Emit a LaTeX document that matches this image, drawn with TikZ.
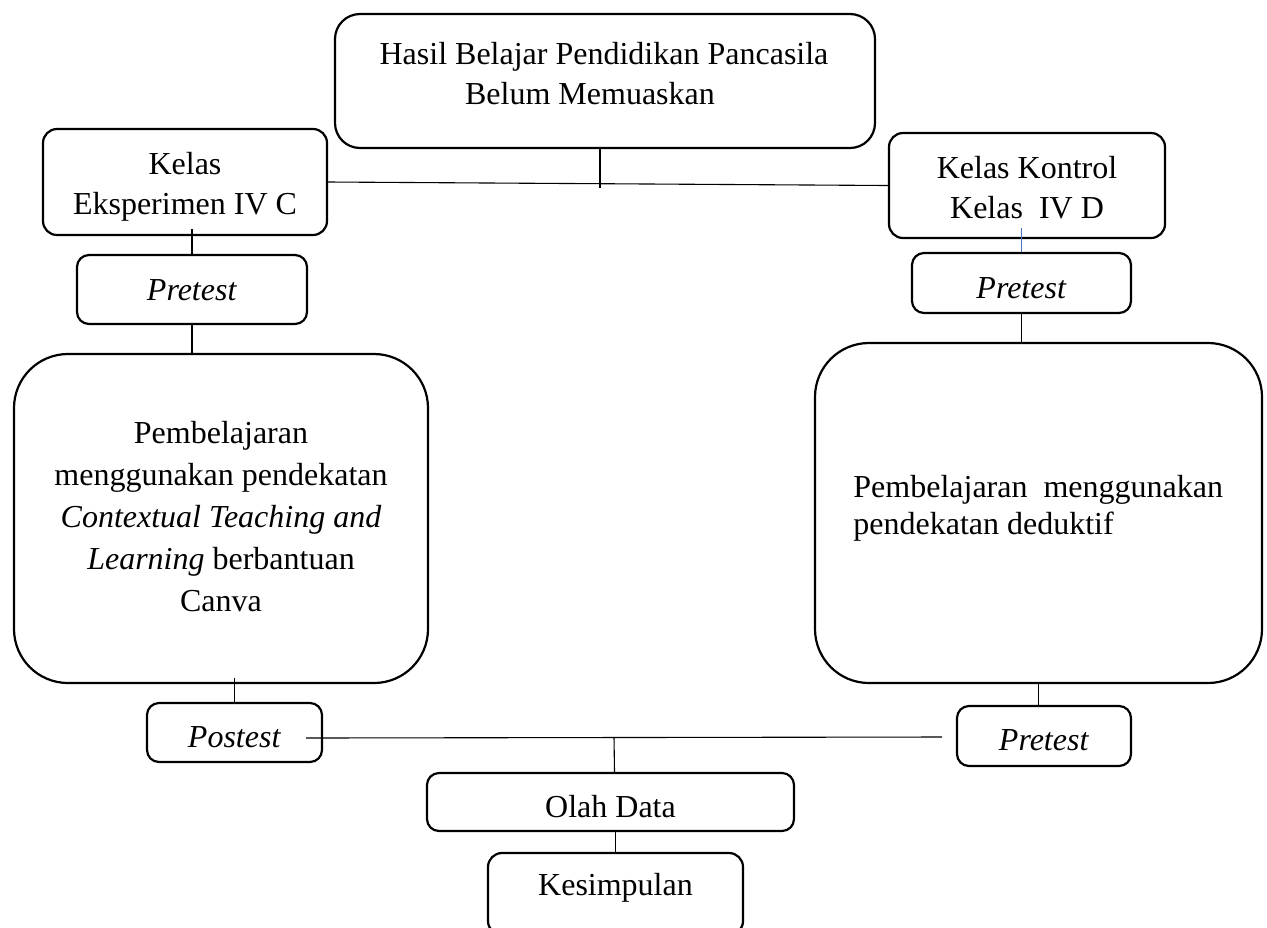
\documentclass[tikz,border=0pt]{standalone}
\usepackage{fontspec}
\setmainfont{Liberation Serif}
\definecolor{lineblue}{RGB}{68,114,196}
\begin{document}
\begin{tikzpicture}[x=0.5pt,y=-0.5pt,
  box/.style={draw, line width=1.1pt, rounded corners=7pt, inner sep=0pt},
  smallbox/.style={box, rounded corners=6pt},
  bigbox/.style={box, rounded corners=27pt},
  link/.style={line width=0.55pt},
  txt/.style={align=center, font=\fontsize{16}{20}\selectfont, inner sep=0pt}]
\useasboundingbox (0,0) rectangle (1267,927);
\clip (0,0) rectangle (1267,927);

% boxes
\node[box, rounded corners=12.5pt, minimum width=270pt, minimum height=67pt] (top) at (605,81) {};
\node[box, minimum width=142pt, minimum height=53pt] (kelE) at (185,182) {};
\node[box, minimum width=138pt, minimum height=52.5pt] (kelK) at (1027,185.5) {};
\node[smallbox, minimum width=115pt, minimum height=34.5pt] (preL) at (192,289.5) {};
\node[smallbox, minimum width=109.5pt, minimum height=30pt] (preR) at (1021.5,283) {};
\node[bigbox, minimum width=207pt, minimum height=164.5pt] (bigL) at (221,518.5) {};
\node[bigbox, minimum width=223.5pt, minimum height=170pt] (bigR) at (1038.5,513) {};
\node[smallbox, minimum width=87.5pt, minimum height=29.5pt] (post) at (234.5,732.5) {};
\node[smallbox, minimum width=87pt, minimum height=30pt] (preB) at (1044,736) {};
\node[smallbox, minimum width=183.5pt, minimum height=29pt] (olah) at (610.5,802) {};
\node[box, minimum width=127.5pt, minimum height=41pt] (kes) at (615.5,894) {};

% texts
\node[txt] (topt) at (604,74) {Hasil Belajar Pendidikan Pancasila\\Belum Memuaskan\hspace*{14pt}};
\node[txt] (kelEt) at (185,187) {Kelas\\Eksperimen IV C};
\node[txt] (kelKt) at (1027,187.5) {Kelas Kontrol\\Kelas\ \ IV D};
\node[txt] (preLt) at (192,290) {\textit{Pretest}};
\node[txt] (preRt) at (1021.5,288) {\textit{Pretest}};
\node[txt, font=\fontsize{16}{21}\selectfont] (bigLt) at (221,516.5)
  {Pembelajaran\\menggunakan pendekatan\\\textit{Contextual Teaching and}\\\textit{Learning} berbantuan\\Canva};
\node[txt, anchor=west, align=left, font=\fontsize{16}{18.5}\selectfont] (bigRt) at (853,508)
  {Pembelajaran\ \ menggunakan\\pendekatan deduktif};
\node[txt] (postt) at (234.5,737) {\textit{Postest}};
\node[txt] (preBt) at (1044,740) {\textit{Pretest}};
\node[txt] (olaht) at (610.5,807) {Olah Data};
\node[txt] (kest) at (615.5,888) {Kesimpulan};

% connectors
\coordinate (hub) at (600,188);
\draw[link] (top.south -| hub) -- (hub);
\draw[link] (kelE.east) -- (kelK.west);
\draw[link] ([yshift=3.5pt]kelE.south -| preL.north) -- (preL.north);
\draw[link, draw=lineblue] ([yshift=5.5pt]kelK.south -| preR.north) -- (preR.north);
\draw[link] (preL.south) -- (preL.south |- bigL.north);
\draw[link] (preR.south) -- (preR.south |- bigR.north);
\draw[link] ([yshift=3pt]bigL.south -| post.north) -- (post.north);
\draw[link] (bigR.south) -- (bigR.south |- preB.north);
\coordinate (pl) at (306,738);
\coordinate (pr) at (942,737);
\coordinate (jn) at (614,737);
\draw[link] (pl) -- (pr);
\draw[link] (jn) -- ([xshift=2pt]olah.north);
\draw[link] (olah.south -| kes.north) -- (kes.north);
\end{tikzpicture}
\end{document}
